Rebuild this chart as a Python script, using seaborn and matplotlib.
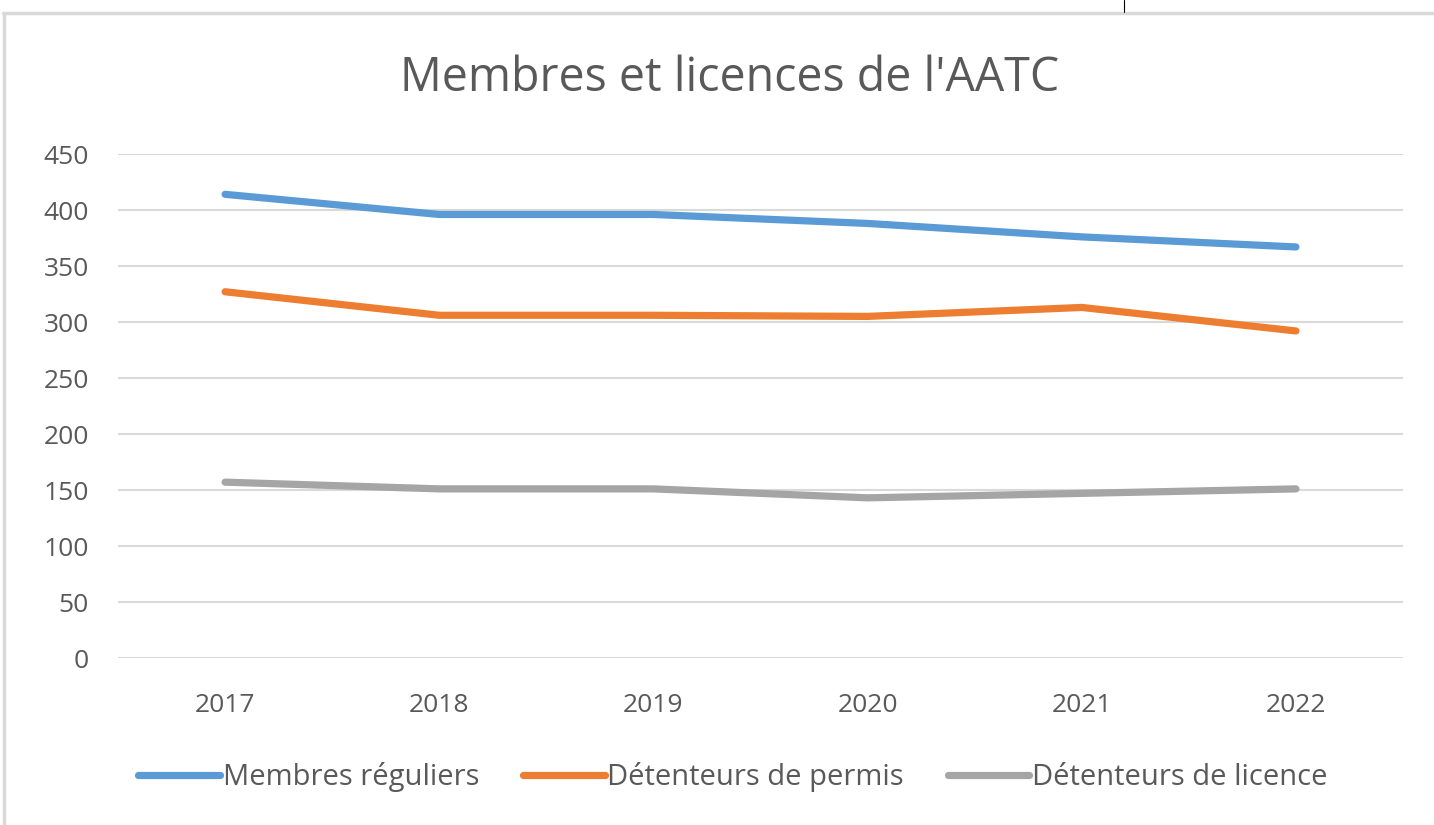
import matplotlib
matplotlib.use("Agg")
import matplotlib.pyplot as plt
import matplotlib.lines as mlines
import seaborn as sns
import pandas as pd

years = ["2017", "2018", "2019", "2020", "2021", "2022"]
membres = [414, 396, 396, 388, 376, 367]
permis = [327, 306, 306, 305, 313, 292]
licence = [157, 151, 151, 143, 147, 151]
series_names = ["Membres réguliers", "Détenteurs de permis", "Détenteurs de licence"]
colors = ["#5B9BD5", "#ED7D31", "#A5A5A5"]
yticks = [0, 50, 100, 150, 200, 250, 300, 350, 400, 450]
title = "Membres et licences de l'AATC"

rows = []
for name, vals in zip(series_names, [membres, permis, licence]):
    for i, (y, v) in enumerate(zip(years, vals)):
        rows.append({"x": i, "year": y, "value": v, "series": name})
df = pd.DataFrame(rows)

sns.set_theme(style="white")
plt.rcParams["font.family"] = ["Open Sans", "DejaVu Sans"]

fig = plt.figure(figsize=(14.34, 8.25), dpi=100)
ax = fig.add_axes([118/1434, 1 - 658/825, (1403 - 118)/1434, (658 - 154)/825])

sns.lineplot(data=df, x="x", y="value", hue="series", palette=colors,
             hue_order=series_names, linewidth=5.2, ax=ax, legend=False,
             solid_capstyle="round", solid_joinstyle="round")

ax.set_xlim(-0.5, 5.5)
ax.set_ylim(0, 450)
ax.set_yticks(yticks)
ax.set_xticks(range(len(years)))
ax.set_xticklabels(years)
ax.yaxis.grid(True, color="#D9D9D9", linewidth=1.5)
ax.set_axisbelow(True)
for s in ax.spines.values():
    s.set_visible(False)
ax.tick_params(axis="both", length=0, labelsize=19, colors="#595959")
ax.tick_params(axis="y", pad=21)
ax.tick_params(axis="x", pad=25)
ax.set_xlabel("")
ax.set_ylabel("")

fig.text(730/1434, 1 - 78/825, title, ha="center", va="center",
         fontsize=33.5, color="#595959")

handles = [mlines.Line2D([], [], color=c, linewidth=5.2, solid_capstyle="round")
           for c in colors]
leg = fig.legend(handles, series_names, loc="center", bbox_to_anchor=(733/1434, 1 - 777/825),
                 ncol=3, frameon=False, fontsize=21, handlelength=2.8,
                 handletextpad=0.1, columnspacing=1.5)
for t in leg.get_texts():
    t.set_color("#595959")

# outer chart border (top and left) and small black mark
fig.add_artist(mlines.Line2D([3/1434, 1], [1 - 13/825, 1 - 13/825], color="#D9D9D9",
                             linewidth=2.5, transform=fig.transFigure))
fig.add_artist(mlines.Line2D([4/1434, 4/1434], [0, 1 - 13/825], color="#D9D9D9",
                             linewidth=2.5, transform=fig.transFigure))
fig.add_artist(mlines.Line2D([1124/1434, 1124/1434], [1 - 12/825, 1], color="black",
                             linewidth=0.8, transform=fig.transFigure))

fig.savefig("out.png", dpi=100)
